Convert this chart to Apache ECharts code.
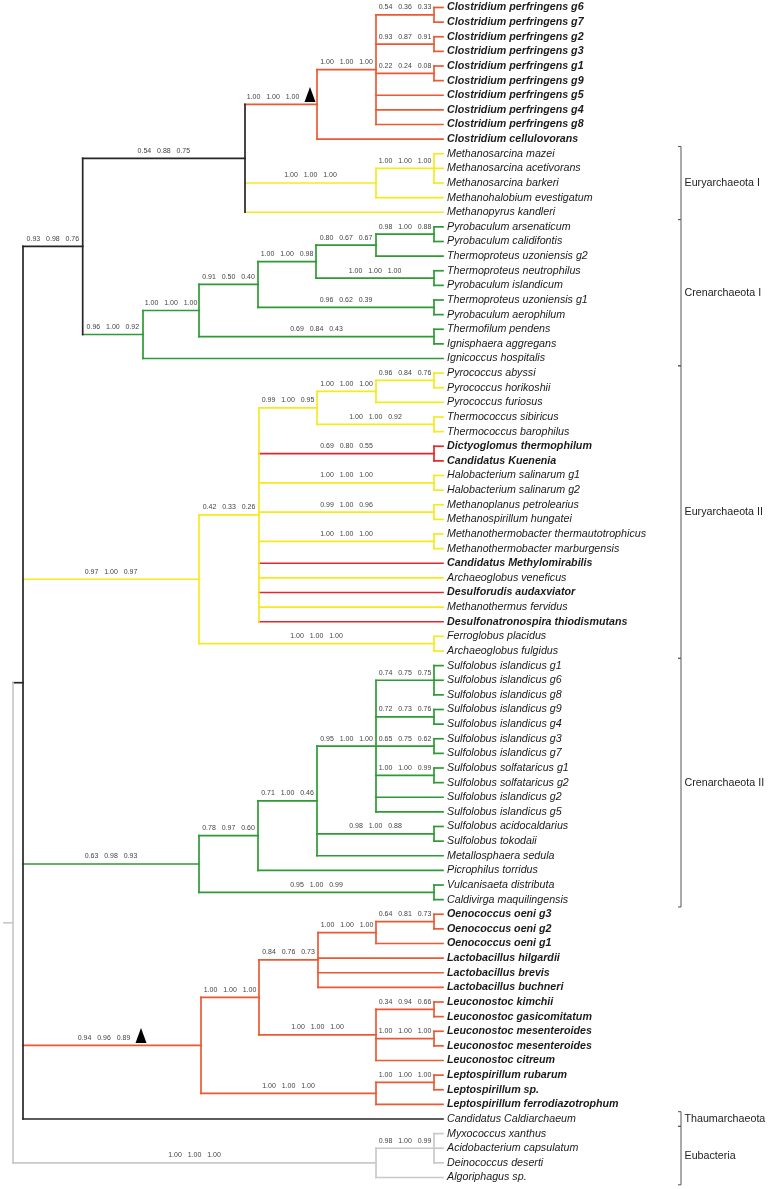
<!DOCTYPE html>
<html><head><meta charset="utf-8">
<script src="https://cdn.jsdelivr.net/npm/echarts@6/dist/echarts.min.js"></script>
<style>html,body{margin:0;padding:0;background:#fff}#c{width:768px;height:1189px}</style>
</head><body><div id="c"></div>
<script>
// ---------------- DATA ----------------
const leafNames = [
 'Clostridium perfringens g6','Clostridium perfringens g7','Clostridium perfringens g2','Clostridium perfringens g3',
 'Clostridium perfringens g1','Clostridium perfringens g9','Clostridium perfringens g5','Clostridium perfringens g4',
 'Clostridium perfringens g8','Clostridium cellulovorans',
 'Methanosarcina mazei','Methanosarcina acetivorans','Methanosarcina barkeri','Methanohalobium evestigatum','Methanopyrus kandleri',
 'Pyrobaculum arsenaticum','Pyrobaculum calidifontis','Thermoproteus uzoniensis g2','Thermoproteus neutrophilus','Pyrobaculum islandicum',
 'Thermoproteus uzoniensis g1','Pyrobaculum aerophilum','Thermofilum pendens','Ignisphaera aggregans','Ignicoccus hospitalis',
 'Pyrococcus abyssi','Pyrococcus horikoshii','Pyrococcus furiosus','Thermococcus sibiricus','Thermococcus barophilus',
 'Dictyoglomus thermophilum','Candidatus Kuenenia','Halobacterium salinarum g1','Halobacterium salinarum g2',
 'Methanoplanus petrolearius','Methanospirillum hungatei','Methanothermobacter thermautotrophicus','Methanothermobacter marburgensis',
 'Candidatus Methylomirabilis','Archaeoglobus veneficus','Desulforudis audaxviator','Methanothermus fervidus',
 'Desulfonatronospira thiodismutans','Ferroglobus placidus','Archaeoglobus fulgidus',
 'Sulfolobus islandicus g1','Sulfolobus islandicus g6','Sulfolobus islandicus g8','Sulfolobus islandicus g9','Sulfolobus islandicus g4',
 'Sulfolobus islandicus g3','Sulfolobus islandicus g7','Sulfolobus solfataricus g1','Sulfolobus solfataricus g2',
 'Sulfolobus islandicus g2','Sulfolobus islandicus g5','Sulfolobus acidocaldarius','Sulfolobus tokodaii','Metallosphaera sedula',
 'Picrophilus torridus','Vulcanisaeta distributa','Caldivirga maquilingensis',
 'Oenococcus oeni g3','Oenococcus oeni g2','Oenococcus oeni g1','Lactobacillus hilgardii','Lactobacillus brevis','Lactobacillus buchneri',
 'Leuconostoc kimchii','Leuconostoc gasicomitatum','Leuconostoc mesenteroides','Leuconostoc mesenteroides','Leuconostoc citreum',
 'Leptospirillum rubarum','Leptospirillum sp.','Leptospirillum ferrodiazotrophum',
 'Candidatus Caldiarchaeum','Myxococcus xanthus','Acidobacterium capsulatum','Deinococcus deserti','Algoriphagus sp.'
];
const boldLeaves = [0,1,2,3,4,5,6,7,8,9,30,31,38,40,42,62,63,64,65,66,67,68,69,70,71,72,73,74,75];

const cladeNames = ['Euryarchaeota I','Crenarchaeota I','Euryarchaeota II','Crenarchaeota II','Thaumarchaeota','Eubacteria'];
const cladeFirstLeaf = [10,15,25,45,76,77];
const cladeLastLeaf  = [14,24,44,61,76,80];

// Tree: N(node depth, support values [3], lineage group, children, marked)
// leaves are leaf indices, or [index, group] when their lineage differs from the parent's
function N(d, s, g, k, m) { return {d, s, g, k, m: !!m}; }
const tree =
N(13, null, 'G', [
  N(23, null, 'B', [
    N(82.7, [0.93,0.98,0.76], 'B', [
      N(245, [0.54,0.88,0.75], 'B', [
        N(317, [1.00,1.00,1.00], 'F', [
          N(376, [1.00,1.00,1.00], 'F', [
            N(434, [0.54,0.36,0.33], 'F', [0,1]),
            N(434, [0.93,0.87,0.91], 'F', [2,3]),
            N(434, [0.22,0.24,0.08], 'F', [4,5]),
            6, 7, 8
          ]),
          9
        ], true),
        N(376, [1.00,1.00,1.00], 'E', [
          N(434, [1.00,1.00,1.00], 'E', [10,11,12]),
          13
        ]),
        [14,'E']
      ]),
      N(143, [0.96,1.00,0.92], 'C', [
        N(199, [1.00,1.00,1.00], 'C', [
          N(258, [0.91,0.50,0.40], 'C', [
            N(316, [1.00,1.00,0.98], 'C', [
              N(376, [0.80,0.67,0.67], 'C', [
                N(434, [0.98,1.00,0.88], 'C', [15,16]),
                17
              ]),
              N(434, [1.00,1.00,1.00], 'C', [18,19])
            ]),
            N(434, [0.96,0.62,0.39], 'C', [20,21])
          ]),
          N(434, [0.69,0.84,0.43], 'C', [22,23])
        ]),
        24
      ])
    ]),
    N(199, [0.97,1.00,0.97], 'E', [
      N(259, [0.42,0.33,0.26], 'E', [
        N(317, [0.99,1.00,0.95], 'E', [
          N(376, [1.00,1.00,1.00], 'E', [
            N(434, [0.96,0.84,0.76], 'E', [25,26]),
            27
          ]),
          N(434, [1.00,1.00,0.92], 'E', [28,29])
        ]),
        N(434, [0.69,0.80,0.55], 'R', [30,31]),
        N(434, [1.00,1.00,1.00], 'E', [32,33]),
        N(434, [0.99,1.00,0.96], 'E', [34,35]),
        N(434, [1.00,1.00,1.00], 'E', [36,37]),
        [38,'R'], 39, [40,'R'], 41, [42,'R']
      ]),
      N(434, [1.00,1.00,1.00], 'E', [43,44])
    ]),
    N(199, [0.63,0.98,0.93], 'C', [
      N(258, [0.78,0.97,0.60], 'C', [
        N(317, [0.71,1.00,0.46], 'C', [
          N(376, [0.95,1.00,1.00], 'C', [
            N(434, [0.74,0.75,0.75], 'C', [45,46,47]),
            N(434, [0.72,0.73,0.76], 'C', [48,49]),
            N(434, [0.65,0.75,0.62], 'C', [50,51]),
            N(434, [1.00,1.00,0.99], 'C', [52,53]),
            54, 55
          ]),
          N(434, [0.98,1.00,0.88], 'C', [56,57]),
          58
        ]),
        59
      ]),
      N(434, [0.95,1.00,0.99], 'C', [60,61])
    ]),
    N(201, [0.94,0.96,0.89], 'F', [
      N(259, [1.00,1.00,1.00], 'F', [
        N(318, [0.84,0.76,0.73], 'F', [
          N(376, [1.00,1.00,1.00], 'F', [
            N(434, [0.64,0.81,0.73], 'F', [62,63]),
            64
          ]),
          65, 66, 67
        ]),
        N(376, [1.00,1.00,1.00], 'F', [
          N(434, [0.34,0.94,0.66], 'F', [68,69]),
          N(434, [1.00,1.00,1.00], 'F', [70,71]),
          72
        ])
      ]),
      N(376, [1.00,1.00,1.00], 'F', [
        N(434, [1.00,1.00,1.00], 'F', [73,74]),
        75
      ])
    ], true),
    76
  ]),
  N(376, [1.00,1.00,1.00], 'G', [
    N(434, [0.98,1.00,0.99], 'G', [77,78,79]),
    80
  ])
]);
const leafDepth = 443;
const rootStubStart = 4;

// ---------------- STYLE ----------------
const groupKeys = ['F','R','E','C','B','G'];
const groupColors = ['#ea5a32','#e2282c','#f4ea1e','#2f9a35','#262626','#c9c9c9'];
const FONT = '"Liberation Sans", Arial, Helvetica, sans-serif';

// ---------------- LAYOUT (derived from tree) ----------------
const segs = [], supports = [], supportTexts = [];
function place(node, parentDepth, inherit) {
  if (typeof node === 'number' || Array.isArray(node)) {
    const idx = Array.isArray(node) ? node[0] : node;
    const g = Array.isArray(node) ? node[1] : inherit;
    segs.push([parentDepth, idx, leafDepth, idx, groupKeys.indexOf(g)]);
    return idx;
  }
  const ys = node.k.map(ch => place(ch, node.d, node.g));
  const y = (ys[0] + ys[ys.length - 1]) / 2;
  const gi = groupKeys.indexOf(node.g);
  segs.push([node.d, ys[0], node.d, ys[ys.length - 1], gi]);
  segs.push([parentDepth, y, node.d, y, gi]);
  if (node.s) {
    supports.push([(parentDepth + node.d) / 2, y, node.m ? 1 : 0]);
    supportTexts.push(node.s.map(v => v.toFixed(2)).join('   '));
  }
  return y;
}
place(tree, rootStubStart, 'G');
const leafData = leafNames.map((n, i) => [leafDepth, i]);
const cladeData = cladeNames.map((n, i) => [681, cladeFirstLeaf[i] - 0.5, cladeLastLeaf[i] + 0.5]);

const chart = echarts.init(document.getElementById('c'), null, {renderer: 'canvas'});
chart.setOption({
  animation: false,
  backgroundColor: '#ffffff',
  grid: {left: 0, right: 0, top: 0, bottom: 0},
  xAxis: {type: 'value', min: 0, max: 768, show: false},
  yAxis: {type: 'value', inverse: true, min: -7.5 / 14.625, max: (1189 - 7.5) / 14.625, show: false},
  series: [
    {
      type: 'custom', silent: true, clip: false,
      encode: {x: [0, 2], y: [1, 3]},
      data: segs,
      renderItem: (p, api) => {
        const a = api.coord([api.value(0), api.value(1)]);
        const b = api.coord([api.value(2), api.value(3)]);
        return {type: 'line', shape: {x1: a[0], y1: a[1], x2: b[0], y2: b[1]},
          style: {stroke: groupColors[api.value(4)], lineWidth: 1.7, lineCap: 'square'}};
      }
    },
    {
      type: 'custom', silent: true, clip: false,
      encode: {x: 0, y: 1},
      data: leafData,
      renderItem: (p, api) => {
        const a = api.coord([api.value(0), api.value(1)]);
        const bold = boldLeaves.indexOf(p.dataIndex) >= 0;
        return {type: 'text', style: {text: leafNames[p.dataIndex], x: a[0] + 4, y: a[1],
          fill: '#1a1a1a', fontSize: 10.7, fontFamily: FONT, fontStyle: 'italic',
          fontWeight: bold ? 'bold' : 'normal', align: 'left', verticalAlign: 'middle'}};
      }
    },
    {
      type: 'custom', silent: true, clip: false,
      encode: {x: 0, y: 1},
      data: supports,
      renderItem: (p, api) => {
        const a = api.coord([api.value(0), api.value(1)]);
        const marked = api.value(2) === 1;
        const children = [{type: 'text', style: {text: supportTexts[p.dataIndex],
          x: a[0] + (marked ? -8 : 0), y: a[1] - 7.5, fill: '#444', fontSize: 7, fontFamily: FONT,
          align: 'center', verticalAlign: 'middle'}}];
        if (marked) {
          const cx = a[0] + 29, by = a[1] - 2.5;
          children.push({type: 'polygon', shape: {points: [[cx - 5.5, by], [cx + 5.5, by], [cx, by - 15]]},
            style: {fill: '#000'}});
        }
        return {type: 'group', children};
      }
    },
    {
      type: 'custom', silent: true, clip: false,
      encode: {x: 0, y: [1, 2]},
      data: cladeData,
      renderItem: (p, api) => {
        const t = api.coord([api.value(0), api.value(1)]);
        const b = api.coord([api.value(0), api.value(2)]);
        return {type: 'group', children: [
          {type: 'polyline', shape: {points: [[t[0] - 3, t[1]], [t[0], t[1]], [b[0], b[1]], [b[0] - 3, b[1]]]},
            style: {stroke: '#555', lineWidth: 1, fill: null}},
          {type: 'text', style: {text: cladeNames[p.dataIndex], x: t[0] + 3.5, y: (t[1] + b[1]) / 2,
            fill: '#222', fontSize: 10.7, fontFamily: FONT, align: 'left', verticalAlign: 'middle'}}
        ]};
      }
    }
  ]
});
</script>
</body></html>
